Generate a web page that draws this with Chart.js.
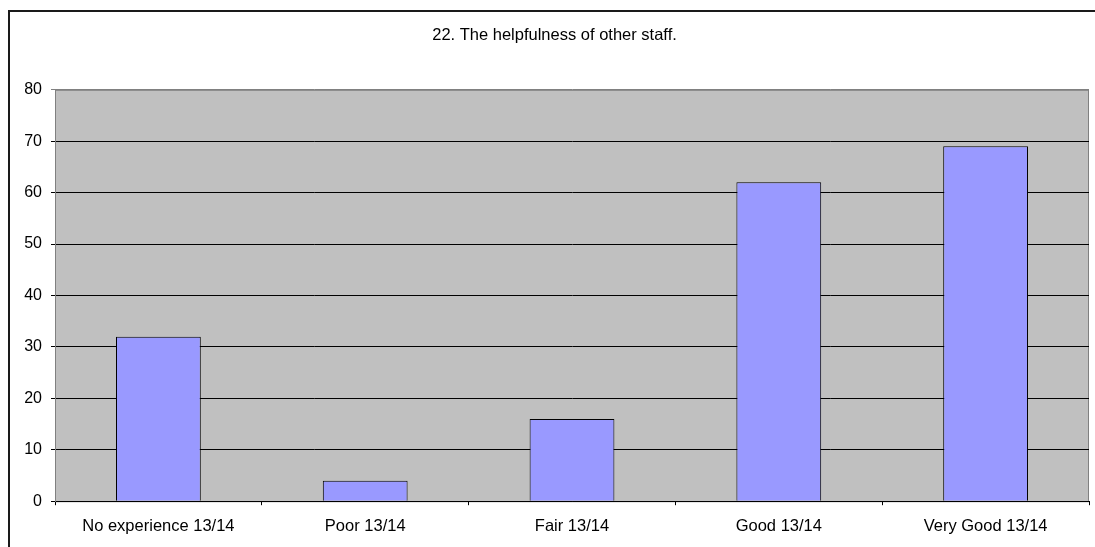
<!DOCTYPE html>
<html>
<head>
<meta charset="utf-8">
<script src="https://cdn.jsdelivr.net/npm/chart.js@4"></script>
<style>
  html, body { margin: 0; padding: 0; background: #fff; }
  #wrap { width: 1095px; height: 547px; }
</style>
</head>
<body>
<div id="wrap"><canvas id="chart" width="1095" height="547"></canvas></div>
<script>
const categories = ["No experience 13/14", "Poor 13/14", "Fair 13/14", "Good 13/14", "Very Good 13/14"];
const responses = [32, 4, 16, 62, 69];
const titleText = "22. The helpfulness of other staff.";

Chart.defaults.font.family = "'Liberation Sans', Arial, sans-serif";
Chart.defaults.color = "#000";

// gray plot area, gray frame, outer frame of the picture
const plotFrame = {
  id: "plotFrame",
  beforeDraw(chart) {
    const { ctx, chartArea: a } = chart;
    ctx.save();
    ctx.fillStyle = "#fff";
    ctx.fillRect(0, 0, chart.width, chart.height);
    ctx.strokeStyle = "#1a1a1a";
    ctx.lineWidth = 2;
    ctx.strokeRect(9, 11, chart.width + 10, chart.height + 10);
    ctx.fillStyle = "#c0c0c0";
    ctx.fillRect(a.left, a.top, a.right - a.left, a.bottom - a.top);
    ctx.strokeStyle = "#808080";
    ctx.lineWidth = 1;
    ctx.strokeRect(a.left + 0.5, a.top + 0.5, a.right - a.left - 1, a.bottom - a.top);
    ctx.restore();
  },
};

new Chart(document.getElementById("chart").getContext("2d"), {
  type: "bar",
  data: {
    labels: categories,
    datasets: [
      {
        label: "Responses",
        data: responses,
        backgroundColor: "#9999ff",
        borderColor: "#000",
        borderWidth: 1,
        barPercentage: 0.41,
        categoryPercentage: 1,
      },
    ],
  },
  options: {
    responsive: false,
    animation: false,
    layout: {
      padding: { left: 20, right: 6, top: 0, bottom: 0 },
    },
    plugins: {
      legend: { display: false },
      tooltip: { enabled: false },
      title: {
        display: true,
        text: titleText,
        font: { size: 16.5, weight: "normal" },
        padding: { top: 26, bottom: 44 },
      },
    },
    scales: {
      x: {
        grid: {
          offset: true,
          drawOnChartArea: false,
          tickLength: 4,
          color: "#000",
        },
        border: { color: "#000" },
        ticks: { font: { size: 16.5 }, padding: 11, maxRotation: 0 },
      },
      y: {
        min: 0,
        max: 80,
        afterFit(scale) {
          scale.width = 35;
        },
        grid: {
          color: (c) => (c.tick && c.tick.value === 80 ? "#808080" : "#000"),
          tickLength: 4,
        },
        border: { color: "#808080" },
        ticks: { stepSize: 10, font: { size: 16 }, padding: 9 },
      },
    },
  },
  plugins: [plotFrame],
});
</script>
</body>
</html>
